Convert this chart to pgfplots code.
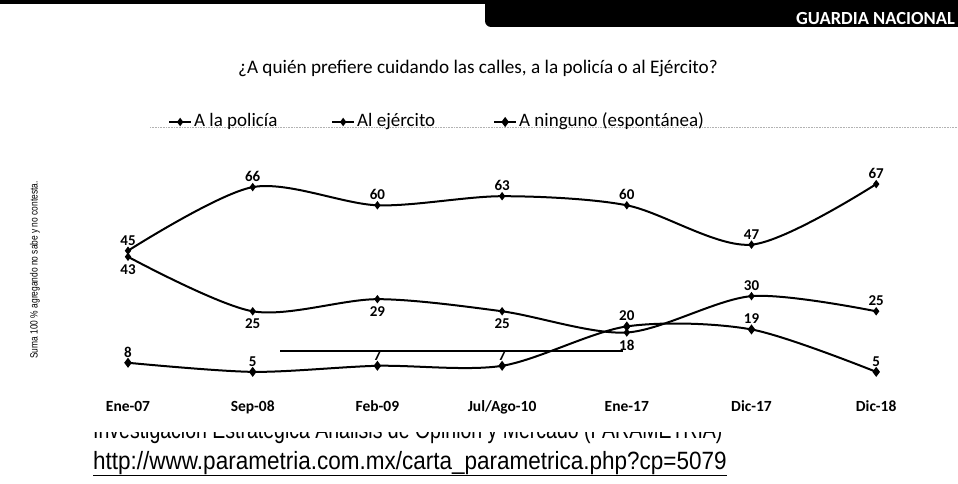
\documentclass[border=0pt]{standalone}
\usepackage{pgfplots}
\pgfplotsset{compat=1.18}
\usepackage{fontspec}
\setmainfont{Carlito}
\newfontfamily\arialf{Liberation Sans}

\pgfplotsset{
  lblabove/.style={draw=none, mark=none, forget plot, nodes near coords,
    every node near coord/.append style={/pgf/number format/assume math mode=true, font=\bfseries\fontsize{15}{15}\selectfont, anchor=south, yshift=2pt}},
  lblbelow/.style={draw=none, mark=none, forget plot, nodes near coords,
    every node near coord/.append style={/pgf/number format/assume math mode=true, font=\bfseries\fontsize{15}{15}\selectfont, anchor=north, yshift=-4pt}},
}

\begin{document}
\begin{tikzpicture}[x=1pt,y=1pt]
\useasboundingbox (0,0) rectangle (958,483);
% header
\fill[black] (0,479) rectangle (958,483);
\fill[black] (485,475) rectangle (958,483);
\fill[black] (520,456) rectangle (958,480);
\fill[black, rounded corners=6pt] (485,456) rectangle (560,480);
\node[anchor=east, text=white, font=\bfseries\fontsize{18.5}{18.5}\selectfont, inner sep=0pt] at (955,464) {GUARDIA NACIONAL};
% title
\node[font=\fontsize{19.2}{19.2}\selectfont] at (478,415) {¿A quién prefiere cuidando las calles, a la policía o al Ejército?};
% dotted scan line under legend
\draw[gray!60, densely dotted, line width=0.6pt] (150,356) -- (958,356);
% y label
\node[rotate=90] at (35,213) {\arialf\scalebox{0.8}[1]{\fontsize{10.5}{10.5}\selectfont Suma 100 \% agregando no sabe y no contesta.}};
% bottom text
\begin{scope}
\clip (0,0) rectangle (958,51);
\node[anchor=base west, inner sep=0pt] at (93,45) {\arialf\scalebox{0.78}[1]{\fontsize{25}{25}\selectfont Investigación Estratégica Análisis de Opinión y Mercado (PARAMETRÍA)}};
\end{scope}
\node[anchor=base west, inner sep=0pt] at (93,14) {\arialf\scalebox{0.9}[1]{\fontsize{25}{25}\selectfont\underline{http://www.parametria.com.mx/carta\_parametrica.php?cp=5079}}};

\begin{axis}[
  at={(90.6pt,96pt)}, anchor=south west,
  width=823pt, height=212pt, scale only axis,
  xmin=-0.3, xmax=6.3, ymin=0, ymax=70,
  clip=false,
  axis line style={draw=none},
  ytick=\empty,
  xtick={0,1,2,3,4,5,6},
  xticklabels={Ene-07,Sep-08,Feb-09,Jul/Ago-10,Ene-17,Dic-17,Dic-18},
  major tick length=0pt,
  xticklabel style={font=\bfseries\fontsize{15.5}{15.5}\selectfont, anchor=base, yshift=-24pt},
  legend columns=3,
  legend style={at={(0.094,1.25)}, anchor=west, draw=none, fill=none, inner sep=0pt,
    font=\fontsize{19}{19}\selectfont, nodes={text height=13pt, text depth=4pt}},
  legend cell align=left,
  legend image code/.code={\draw[mark repeat=2,mark phase=2] plot coordinates {(0pt,0pt)(11pt,0pt)(22pt,0pt)};},
]
\addplot[black, line width=2pt, smooth, mark=diamond*, mark size=2.6pt] coordinates {(0,45) (1,66) (2,60) (3,63) (4,60) (5,47) (6,67)};
\addlegendentry{\makebox[135pt][l]{A la policía}}
\addplot[black, line width=2pt, smooth, mark=diamond*, mark size=2.6pt] coordinates {(0,43) (1,25) (2,29) (3,25) (4,18) (5,30) (6,25)};
\addlegendentry{\makebox[134pt][l]{Al ejército}}
\addplot[black, line width=2pt, smooth, mark=diamond*, mark size=3.4pt] coordinates {(0,8) (1,5) (2,7) (3,7) (4,20) (5,19) (6,5)};
\addlegendentry{A ninguno (espontánea)}
% data labels
\addplot[lblabove] coordinates {(0,45) (1,66) (2,60) (3,63) (4,60) (5,47) (6,67)};
\addplot[lblbelow] coordinates {(0,43) (1,25) (2,29) (3,25) (4,18)};
\addplot[lblabove] coordinates {(5,30) (6,25)};
\addplot[lblabove] coordinates {(0,8) (1,5) (2,7) (3,7) (4,20) (5,19) (6,5)};
% stray scan line
\addplot[black, line width=1.3pt, no marks, forget plot] coordinates {(1.22,11.9) (3.97,11.9)};
\end{axis}
\end{tikzpicture}
\end{document}
